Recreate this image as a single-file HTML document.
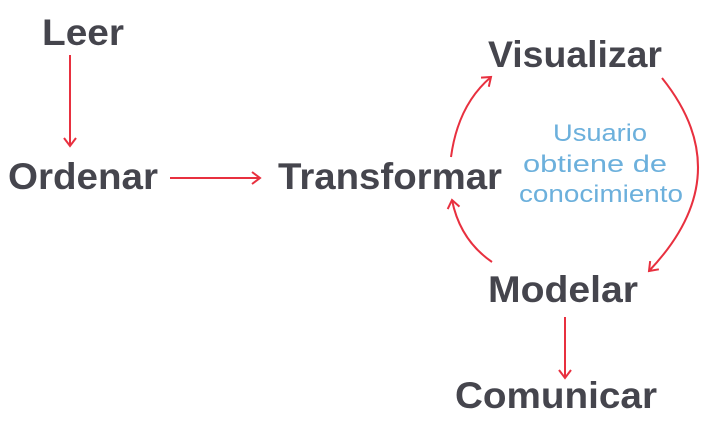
<!DOCTYPE html>
<html><head><meta charset="utf-8"><style>html,body{margin:0;padding:0;background:#fff;}</style></head>
<body>
<svg width="709" height="418" xmlns="http://www.w3.org/2000/svg">
<defs>
<marker id="a" markerWidth="14" markerHeight="14" refX="10" refY="7" orient="auto" markerUnits="userSpaceOnUse">
<path d="M2,1 L10,7 L2,13" fill="none" stroke="#e8303f" stroke-width="2"/>
</marker>
</defs>
<g font-family="Liberation Sans, sans-serif" font-size="37" font-weight="bold" fill="#45454d">
<text x="42" y="45" textLength="82" lengthAdjust="spacingAndGlyphs">Leer</text>
<text x="8" y="189" textLength="150" lengthAdjust="spacingAndGlyphs">Ordenar</text>
<text x="278" y="189" textLength="224" lengthAdjust="spacingAndGlyphs">Transformar</text>
<text x="488" y="67" textLength="174" lengthAdjust="spacingAndGlyphs">Visualizar</text>
<text x="488" y="302" textLength="150" lengthAdjust="spacingAndGlyphs">Modelar</text>
<text x="455" y="408" textLength="202" lengthAdjust="spacingAndGlyphs">Comunicar</text>
</g>
<g font-family="Liberation Sans, sans-serif" font-size="24" fill="#6cb0dc">
<text x="553" y="141" textLength="94" lengthAdjust="spacingAndGlyphs">Usuario</text>
<text x="523" y="172" textLength="144" lengthAdjust="spacingAndGlyphs">obtiene de</text>
<text x="519" y="202" textLength="164" lengthAdjust="spacingAndGlyphs">conocimiento</text>
</g>
<g fill="none" stroke="#e8303f" stroke-width="2">
<path d="M70,55 L70,146" marker-end="url(#a)"/>
<path d="M170,178 L260,178" marker-end="url(#a)"/>
<path d="M451,157 Q458,105 491,77" marker-end="url(#a)"/>
<path d="M662,78 Q740,175 649,271" marker-end="url(#a)"/>
<path d="M492,262 Q460,240 452,200" marker-end="url(#a)"/>
<path d="M565,317 L565,378" marker-end="url(#a)"/>
</g>
</svg>
</body></html>
